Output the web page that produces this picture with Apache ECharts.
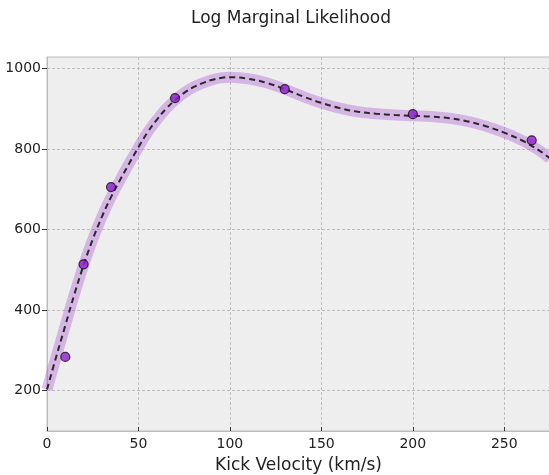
<!DOCTYPE html>
<html>
<head>
<meta charset="utf-8">
<script src="https://cdn.jsdelivr.net/npm/echarts@6/dist/echarts.min.js"></script>
<style>
  html, body { margin: 0; padding: 0; background: #ffffff; }
  #chart { width: 549px; height: 475px; }
</style>
</head>
<body>
<div id="chart"></div>
<script>
// sampled points (kick velocity, log marginal likelihood)
const sampleX = [10, 20, 35, 70, 130, 200, 265];
const sampleY = [284, 514, 706, 927, 949, 887, 822];

// fitted curve
const curveX = [0, 5, 10, 15, 20, 25, 30, 35, 40, 45, 50, 55, 60, 65, 70, 75, 80, 85, 90, 95, 100,
                110, 120, 130, 140, 150, 160, 170, 180, 190, 200, 210, 220, 230, 240, 250, 260, 270, 275];
const curveY = [203, 284, 362, 440, 512, 576, 632, 681, 724, 765, 805, 842, 873, 900, 922, 940, 954, 964, 972, 977, 979,
                975, 965, 949, 931, 915, 902, 893, 888, 885, 883, 881, 877, 869, 857, 841, 821, 794, 777];

const yTicks = [200, 400, 600, 800, 1000];

const curve = curveX.map((x, i) => [x, curveY[i]]);
const samples = sampleX.map((x, i) => [x, sampleY[i]]);

const chart = echarts.init(document.getElementById('chart'));

const option = {
    animation: false,
    backgroundColor: '#ffffff',
    textStyle: { fontFamily: 'DejaVu Sans' },
    title: {
        text: 'Log Marginal Likelihood',
        left: 286,
        top: 5,
        textAlign: 'center',
        textStyle: { fontFamily: 'DejaVu Sans', fontSize: 17, fontWeight: 'normal', color: '#222' }
    },
    grid: {
        left: 47,
        right: -1,
        top: 57,
        bottom: 44,
        outerBoundsMode: 'none',
        containLabel: false,
        show: true,
        backgroundColor: '#eeeeee',
        borderColor: '#bcbcbc',
        borderWidth: 1
    },
    xAxis: {
        type: 'value',
        min: 0,
        max: 275,
        interval: 50,
        name: 'Kick Velocity (km/s)',
        nameLocation: 'middle',
        nameGap: 26,
        nameTextStyle: { fontFamily: 'DejaVu Sans', fontSize: 17, color: '#222' },
        axisLine: { show: true, lineStyle: { color: '#bcbcbc' } },
        axisTick: { show: true, inside: true, length: 4, lineStyle: { color: '#333' } },
        axisLabel: { fontSize: 14, color: '#222', margin: 6, showMaxLabel: false },
        splitLine: { show: true, lineStyle: { color: '#b2b2b2', type: [3, 2], width: 0.8 } }
    },
    yAxis: {
        type: 'value',
        min: 100,
        max: 1029,
        axisLine: { show: true, lineStyle: { color: '#bcbcbc' } },
        axisTick: { show: true, length: 5, customValues: yTicks, lineStyle: { color: '#333' } },
        axisLabel: {
            fontSize: 14, color: '#222', margin: 6, customValues: yTicks,
            formatter: (v) => String(v)
        },
        splitLine: { show: true, lineStyle: { color: '#b2b2b2', type: [3, 2], width: 0.8 } }
    },
    series: [
        {
            name: 'band',
            type: 'line',
            data: curve,
            smooth: 0.4,
            showSymbol: false,
            lineStyle: { color: 'rgba(153, 50, 204, 0.3)', width: 11, cap: 'butt' },
            z: 2
        },
        {
            name: 'fit',
            type: 'line',
            data: curve,
            smooth: 0.4,
            showSymbol: false,
            lineStyle: { color: '#2a2a2a', width: 2, type: [6, 4] },
            z: 3
        },
        {
            name: 'samples',
            type: 'scatter',
            data: samples,
            symbolSize: 9,
            itemStyle: { color: '#8e1ccf', borderColor: '#111', borderWidth: 1.2 },
            z: 4
        }
    ]
};

chart.setOption(option);
</script>
</body>
</html>
